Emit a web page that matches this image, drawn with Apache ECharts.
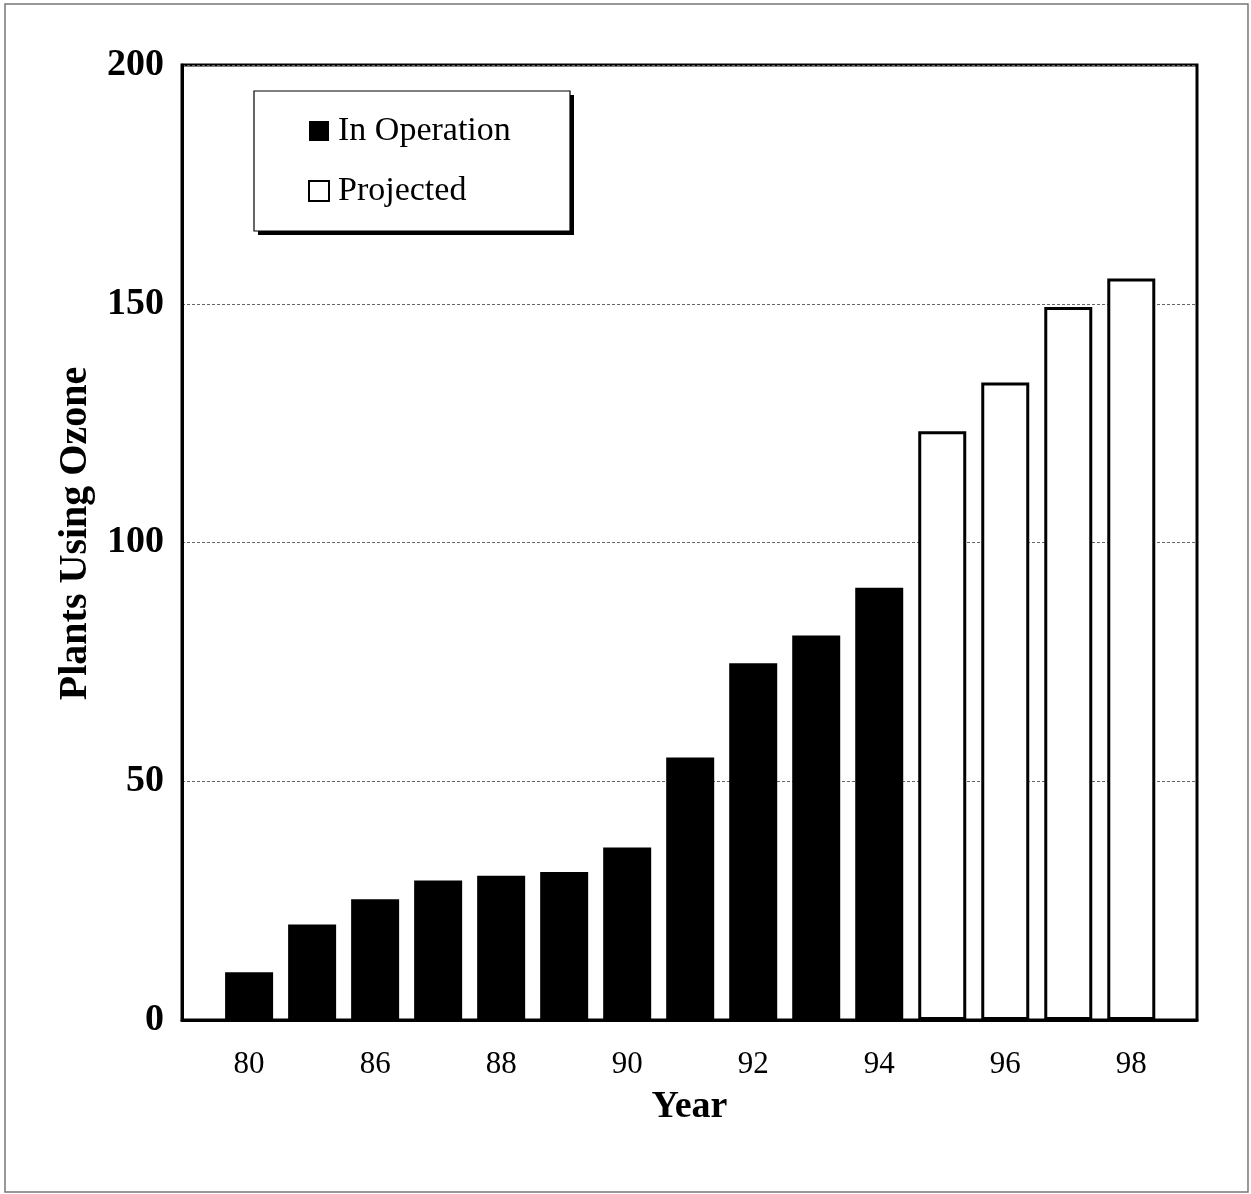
<!DOCTYPE html>
<html>
<head>
<meta charset="utf-8">
<script src="https://cdn.jsdelivr.net/npm/echarts@6/dist/echarts.min.js"></script>
<style>
html,body{margin:0;padding:0;background:#fff;}
#chart{width:1251px;height:1194px;}
</style>
</head>
<body>
<div id="chart"></div>
<script>
// Data
const years = ['80','85','86','87','88','89','90','91','92','93','94','95','96','97','98'];
const inOperation = [10, 20, 25.3, 29.2, 30.2, 31, 36.1, 55, 74.7, 80.5, 90.5];
const projected = [123.3, 133.5, 149.3, 155.3];
const yTicks = [0, 50, 100, 150, 200];
const xLabelIdx = [0, 2, 4, 6, 8, 10, 12, 14];

const FONT = '"Liberation Serif", "DejaVu Serif", serif';

const opData = inOperation.map((v, i) => [i, v]);
const prData = projected.map((v, i) => [inOperation.length + i, v]);

const chart = echarts.init(document.getElementById('chart'));
chart.setOption({
  backgroundColor: '#fff',
  animation: false,
  grid: {
    left: 182, right: 54, top: 65, bottom: 174,
    show: true, borderColor: '#000', borderWidth: 3, backgroundColor: 'transparent'
  },
  graphic: [
    { type: 'rect', shape: { x: 5, y: 4, width: 1243, height: 1188 },
      style: { fill: 'none', stroke: '#777', lineWidth: 1.5 }, z: 0 },
    { type: 'rect', shape: { x: 258, y: 95, width: 316, height: 140 },
      style: { fill: '#000' }, z: 50 },
    { type: 'rect', shape: { x: 254, y: 91, width: 316, height: 140 },
      style: { fill: '#fff', stroke: '#000', lineWidth: 1.2 }, z: 51 }
  ],
  legend: {
    left: 308, top: 114, orient: 'vertical', z: 60,
    icon: 'rect',
    itemWidth: 20, itemHeight: 20, itemGap: 26,
    padding: 0,
    textStyle: { fontFamily: FONT, fontSize: 34, color: '#000', lineHeight: 30, padding: [0, 0, 0, 4] },
    data: ['In Operation', 'Projected']
  },
  xAxis: {
    type: 'value', min: -1.065, max: 15.043,
    splitLine: { show: false },
    axisLine: { show: true, onZero: false, lineStyle: { color: '#000', width: 3 } },
    axisTick: { show: false },
    axisLabel: {
      customValues: xLabelIdx,
      formatter: v => years[Math.round(v)],
      fontFamily: FONT, fontSize: 31, color: '#000', margin: 29
    },
    name: 'Year', nameLocation: 'middle', nameGap: 68,
    nameTextStyle: { fontFamily: FONT, fontSize: 38, fontWeight: 'bold', color: '#000' }
  },
  yAxis: {
    type: 'value', min: 0, max: 200, interval: 50,
    axisLine: { show: true, onZero: false, lineStyle: { color: '#000', width: 3 } },
    axisTick: { show: false },
    axisLabel: {
      customValues: yTicks,
      fontFamily: FONT, fontSize: 38, fontWeight: 'bold', color: '#000', margin: 18
    },
    splitLine: { show: true, lineStyle: { color: '#666', type: [3, 2], width: 1 } },
    name: 'Plants Using Ozone', nameLocation: 'middle', nameGap: 82,
    nameTextStyle: { fontFamily: FONT, fontSize: 40, fontWeight: 'bold', color: '#000', padding: [0, 0, 0, 18] }
  },
  series: [
    { name: 'In Operation', type: 'bar', data: opData, barWidth: 48, barGap: '-100%',
      itemStyle: { color: '#000' }, z: 3 },
    { name: 'Projected', type: 'bar', data: prData, barWidth: 48, barGap: '-100%',
      itemStyle: { color: '#fff', borderColor: '#000', borderWidth: 3 }, z: 3 }
  ]
});
</script>
</body>
</html>
